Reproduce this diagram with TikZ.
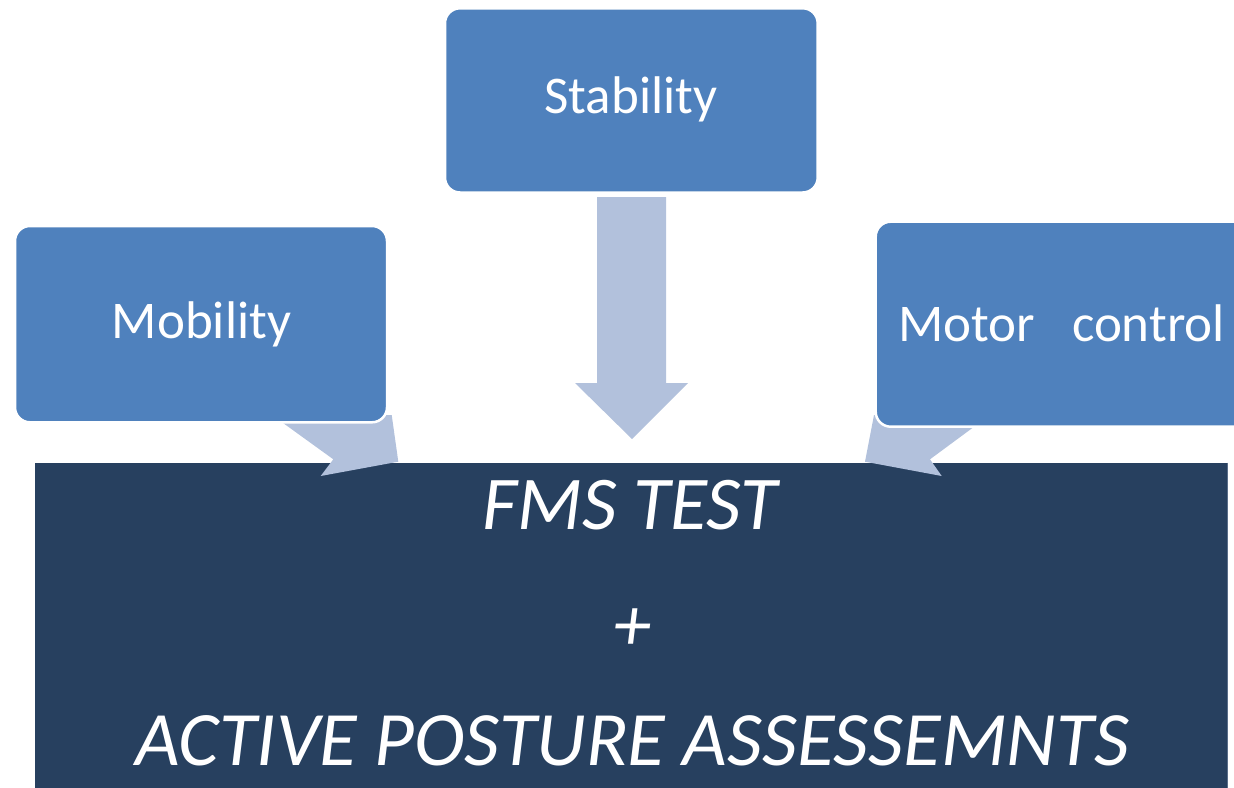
\documentclass[tikz,border=0pt]{standalone}
\usepackage{fontspec}
\setmainfont{Carlito}
\definecolor{boxblue}{HTML}{4F81BD}
\definecolor{arrowblue}{HTML}{B2C1DC}
\definecolor{navy}{HTML}{27405F}
\definecolor{navyedge}{HTML}{5A6E8A}
\tikzset{
  topic/.style={fill=boxblue, draw=white, line width=2.5pt, rounded corners=15pt},
  topiclabel/.style={text=white, anchor=base, inner sep=0pt, font=\fontsize{53}{62}\selectfont},
  blockarrow/.style={fill=arrowblue, draw=none},
  mainlabel/.style={text=white, anchor=base, inner sep=0pt, font=\itshape\fontsize{76}{90}\selectfont},
}
\begin{document}
\begin{tikzpicture}[x=1pt,y=-1pt]
\useasboundingbox (0,0) rectangle (1234,787);
\clip (0,0) rectangle (1234,787);

% result panel
\fill[navy] (35,462.5) rectangle (1228,800);
\draw[navyedge, line width=1pt] (1227.5,462.5) -- (1227.5,800);
\node[mainlabel] (fms) at (630,529) {FMS TEST};
\node[mainlabel] (plus) at (632,650) {+};
\node[mainlabel, font=\itshape\fontsize{77}{92}\selectfont] (apa) at (632.5,765) {ACTIVE POSTURE ASSESSEMNTS};

% block arrows feeding the panel
\fill[blockarrow] (597,197) -- (666,197) -- (666,383) -- (688,383) -- (632,439)
  -- (575,383) -- (597,383) -- cycle;
\fill[blockarrow] (272,415) -- (333.3,459.3) -- (320.7,476) -- (398.3,461.7)
  -- (391.7,415) -- cycle;
\fill[blockarrow] (874,415) -- (865,461.7) -- (941.7,476) -- (930,459.3)
  -- (990,415) -- cycle;

% the three topics
\draw[topic] (445,8.3) rectangle (817.7,192.5);
\node[topiclabel] (stability) at (631,113.3) {Stability};
\draw[topic] (15,226) rectangle (387,422.3);
\node[topiclabel] (mobility) at (201.5,338) {Mobility};
\draw[topic] (875.7,221.7) rectangle (1260,426.7);
\node[topiclabel] (motor) at (1061.5,341.7) {Motor\hspace{25pt} control};
\end{tikzpicture}
\end{document}
